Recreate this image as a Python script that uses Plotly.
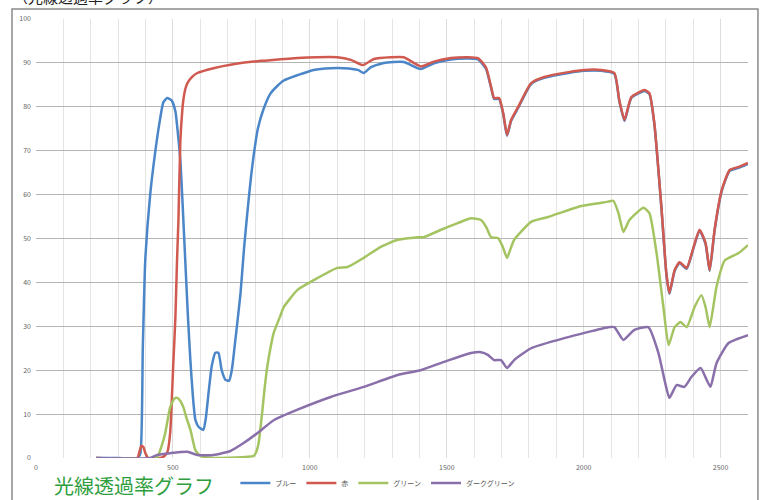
import plotly.graph_objects as go

# ---- data (wavelength nm, transmittance %) ----
blue_x = [220, 300, 370, 381, 390, 399, 417, 436, 450, 465, 479, 495, 509, 518, 527, 536, 545, 555, 564, 573, 582, 595, 611, 620, 630, 642, 655, 666, 678, 692, 705, 715, 730, 747, 760, 772, 785, 795, 810, 831, 856, 882, 905, 955, 1014, 1076, 1124, 1175, 1197, 1222, 1270, 1343, 1405, 1453, 1515, 1578, 1614, 1643, 1662, 1673, 1691, 1706, 1720, 1735, 1761, 1808, 1856, 1944, 2002, 2064, 2112, 2130, 2149, 2174, 2222, 2240, 2258, 2284, 2302, 2313, 2332, 2350, 2376, 2401, 2423, 2445, 2460, 2478, 2504, 2533, 2566, 2600]
blue_y = [0, 0, 0, 1, 25, 45, 60, 70, 76, 81, 82, 81.5, 79, 74, 68, 57, 45, 32, 22, 14, 8.7, 7, 6.4, 9, 14.8, 21, 24, 24, 20, 17.8, 17.6, 20, 28, 37.6, 48, 56, 64, 69, 75, 79.5, 83, 84.8, 86, 87.2, 88.4, 88.8, 88.8, 88.4, 87.7, 89, 90, 90.2, 88.6, 89.9, 90.8, 91, 90.8, 88.7, 84.3, 81.8, 81.8, 78.4, 73.4, 76.8, 79.8, 85.2, 86.6, 87.7, 88.2, 88.2, 87.5, 81.3, 76.8, 82, 83.6, 82.9, 76.1, 56.8, 41.8, 37.4, 42.6, 44.4, 43.1, 47.8, 51.8, 48.8, 42.6, 51.8, 60.8, 65.4, 66.1, 67.0]

red_x = [220, 370, 378, 385, 392, 400, 410, 454, 470, 480, 490, 501, 509, 515, 520, 527, 534, 538, 545, 553, 570, 589, 648, 710, 809, 831, 955, 1100, 1150, 1193, 1234, 1296, 1343, 1405, 1453, 1515, 1578, 1614, 1643, 1662, 1673, 1691, 1706, 1720, 1735, 1761, 1808, 1856, 1944, 2002, 2064, 2112, 2130, 2149, 2174, 2222, 2240, 2258, 2284, 2302, 2313, 2332, 2350, 2376, 2401, 2423, 2445, 2460, 2478, 2504, 2533, 2566, 2600]
red_y = [0, 0, 1.5, 2.8, 2.5, 1, 0, 0, 0.5, 1.4, 5.7, 21, 32, 45, 54, 72, 79, 81.5, 84, 85.4, 86.8, 87.7, 88.8, 89.6, 90.4, 90.5, 91.1, 91.3, 90.7, 89.5, 90.9, 91.3, 91.3, 89.2, 90.3, 91.1, 91.3, 91.1, 89, 84.5, 82, 82, 78.6, 73.6, 77, 80, 85.4, 86.8, 87.9, 88.4, 88.4, 87.7, 81.5, 77, 82.2, 83.8, 83.1, 76.3, 57, 42, 37.6, 42.8, 44.6, 43.3, 48, 52, 49, 42.8, 52, 61, 65.6, 66.3, 67.2]

green_x = [220, 440, 447, 460, 472, 490, 505, 516, 527, 538, 550, 564, 582, 600, 650, 795, 805, 813, 820, 827, 835, 845, 856, 868, 893, 905, 955, 1014, 1100, 1138, 1197, 1259, 1321, 1394, 1416, 1479, 1540, 1589, 1625, 1645, 1662, 1687, 1705, 1720, 1735, 1746, 1808, 1870, 1991, 2090, 2108, 2127, 2145, 2167, 2218, 2240, 2266, 2291, 2310, 2332, 2354, 2376, 2405, 2430, 2445, 2460, 2485, 2515, 2566, 2600]
green_y = [0, 0, 0.7, 3, 5.7, 11.6, 13.5, 13.7, 13, 11.6, 9, 6.4, 1.8, 0.5, 0, 0.5, 1.5, 3.4, 7, 11, 16, 21, 25, 28.5, 32.5, 34.4, 38.3, 40.5, 43.3, 43.5, 45.6, 48.1, 49.7, 50.3, 50.3, 52, 53.5, 54.6, 54.2, 52.5, 50.3, 50.1, 48, 45.6, 48, 49.7, 53.8, 54.9, 57.4, 58.4, 58.6, 55.8, 51.5, 54.2, 57, 55.8, 46.7, 34.4, 25.7, 29.8, 31, 29.8, 34.4, 37.1, 34.4, 29.8, 39, 45, 46.7, 48.5]

purple_x = [220, 417, 443, 490, 553, 589, 648, 710, 758, 809, 868, 955, 1076, 1197, 1321, 1405, 1490, 1589, 1625, 1650, 1673, 1698, 1720, 1746, 1808, 1929, 2090, 2112, 2145, 2185, 2236, 2273, 2295, 2313, 2339, 2368, 2394, 2427, 2449, 2463, 2485, 2529, 2600]
purple_y = [0, 0, 0.7, 1.1, 1.4, 0.7, 0.7, 1.6, 3.4, 5.7, 8.6, 11, 13.9, 16.2, 18.9, 20, 21.9, 23.9, 24.1, 23.5, 22.3, 22.3, 20.5, 22.3, 25, 27.3, 29.8, 29.8, 26.9, 29.2, 29.8, 23.9, 17.8, 13.7, 16.6, 16.2, 18.5, 20.5, 17.8, 16.2, 21.6, 26.2, 28]

series_names = ["ブルー", "赤", "グリーン", "ダークグリーン"]
series_colors = ["#4A86C8", "#D05A50", "#A4C462", "#8A70AA"]
x_tick_vals = [0, 500, 1000, 1500, 2000, 2500]
y_tick_vals = [0, 10, 20, 30, 40, 50, 60, 70, 80, 90, 100]
chart_title = "光線透過率グラフ"
top_title = "（光線透過率グラフ）"

fig = go.Figure()
for name, color, xs, ys in zip(series_names, series_colors,
                               [blue_x, red_x, green_x, purple_x],
                               [blue_y, red_y, green_y, purple_y]):
    fig.add_trace(go.Scatter(x=xs, y=ys, mode="lines", name=name,
                             line=dict(color=color, width=2.5, shape="spline", smoothing=0.5)))

fig.update_layout(
    width=761, height=500,
    margin=dict(l=36, r=13, t=19, b=42, autoexpand=False),
    paper_bgcolor="white", plot_bgcolor="white",
    font=dict(family="Noto Sans CJK JP, Noto Sans, sans-serif", color="#555555"),
    legend=dict(orientation="h", x=0.28, xanchor="left", y=-0.057, yanchor="middle",
                font=dict(size=7, color="#555555"), bgcolor="rgba(0,0,0,0)",
                itemwidth=30, tracegroupgap=0),
    showlegend=True,
)
fig.update_xaxes(range=[0, 2600], tickvals=x_tick_vals, showgrid=True, automargin=False,
                 gridcolor="#DDDDDD", gridwidth=1,
                 minor=dict(dtick=100, tick0=0, showgrid=True, gridcolor="#E4E4E4", gridwidth=1),
                 showline=False, zeroline=False, ticks="",
                 tickfont=dict(size=7, color="#666666"), ticklabelstandoff=4)
fig.update_yaxes(range=[0, 100], tickvals=y_tick_vals, showgrid=True, automargin=False,
                 gridcolor="#B4B4B4", gridwidth=1, zeroline=False, showline=False,
                 ticks="", tickfont=dict(size=7, color="#666666"), ticklabelstandoff=4)

# outer frame
fig.add_shape(type="rect", xref="paper", yref="paper",
              x0=-0.0337, x1=1.014, y0=-0.12, y1=1.0228,
              line=dict(color="#8A8A8A", width=1.5), layer="below")

fig.add_annotation(text=chart_title, xref="paper", yref="paper", x=0.0225, y=-0.062,
                   xanchor="left", yanchor="middle", showarrow=False,
                   font=dict(size=20, color="#2E9E3E", family="Noto Sans CJK JP"))
fig.add_annotation(text=top_title, xref="paper", yref="paper", x=-0.035, y=1.052,
                   xanchor="left", yanchor="middle", showarrow=False,
                   font=dict(size=15, color="#222222", family="Noto Sans CJK JP"))

fig.write_html("out.html", config={"displayModeBar": False},
               post_script="document.body.style.margin='0';document.body.style.padding='0';")
